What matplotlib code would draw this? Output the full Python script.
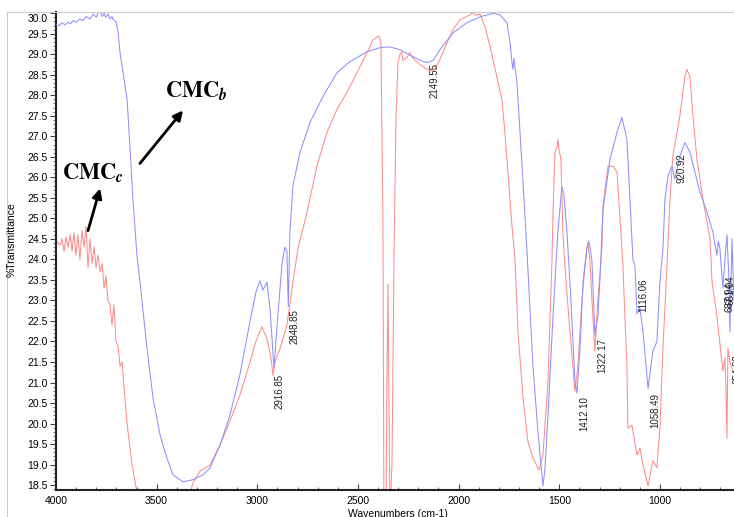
import matplotlib
matplotlib.use("Agg")
import matplotlib.pyplot as plt
from matplotlib.lines import Line2D
from matplotlib.ticker import MultipleLocator, FormatStrFormatter
import matplotlib.transforms as mtransforms

plt.rcParams['font.family'] = ['Liberation Sans', 'DejaVu Sans']
plt.rcParams['mathtext.fontset'] = 'stix'

# ---- CMC_b (blue) spectrum ----
wn_b = [4000, 3985, 3970, 3955, 3940, 3930, 3915, 3900, 3881, 3866, 3850, 3831, 3815, 3800, 3790, 3781,
        3770, 3760, 3752, 3742, 3732, 3722, 3717, 3702, 3692, 3682, 3647, 3632, 3618,
        3598, 3583, 3548, 3518, 3483, 3449, 3419, 3369, 3320, 3270, 3235, 3185, 3136, 3086, 3036,
        3007, 2987, 2972, 2952, 2937, 2917, 2897, 2877, 2863, 2853, 2846, 2838, 2823, 2788, 2738,
        2674, 2604, 2540, 2455, 2391, 2341, 2291, 2227, 2177, 2152, 2127, 2093, 2028, 1959, 1894,
        1829, 1795, 1760, 1745, 1735, 1730, 1725, 1710, 1695, 1680, 1661, 1631, 1606, 1586, 1581,
        1571, 1556, 1531, 1507, 1487, 1477, 1462, 1447, 1422, 1412, 1397, 1382, 1363, 1353, 1338,
        1323, 1308, 1298, 1283, 1248, 1213, 1189, 1164, 1149, 1134, 1124, 1114, 1099, 1084, 1059,
        1035, 1015, 1000, 985, 975, 960, 940, 926, 901, 876, 851, 801, 766, 737, 717, 710, 702,
        687, 677, 667, 657, 652, 642, 632]
tr_b = [29.72, 29.70, 29.76, 29.72, 29.78, 29.74, 29.82, 29.78, 29.86, 29.82, 29.92, 29.86, 29.98, 29.90, 30.02, 30.05,
        29.92, 30.00, 29.90, 29.98, 29.86, 29.92, 29.85, 29.80, 29.55, 29.04, 27.90, 26.70, 25.47,
        24.10, 23.46, 21.83, 20.62, 19.72, 19.16, 18.75, 18.58, 18.63, 18.75, 18.92, 19.48, 20.20, 21.20, 22.50,
        23.20, 23.48, 23.25, 23.45, 22.80, 21.35, 22.70, 23.90, 24.30, 24.20, 22.85, 24.67, 25.79, 26.61, 27.34,
        27.97, 28.55, 28.82, 29.06, 29.16, 29.18, 29.11, 28.94, 28.82, 28.80, 28.85, 29.11, 29.52, 29.77, 29.91,
        30.00, 29.96, 29.77, 29.30, 28.80, 28.63, 28.90, 28.31, 27.10, 25.88, 24.26, 21.42, 19.80, 18.75, 18.48,
        18.90, 20.20, 22.63, 24.67, 25.76, 25.60, 24.67, 23.45, 21.03, 20.74, 21.83, 23.45, 24.26, 24.45, 24.00,
        22.15, 22.63, 23.50, 25.20, 26.44, 27.10, 27.46, 26.93, 25.47, 24.00, 23.84, 22.68, 22.80, 22.24, 20.86,
        21.76, 22.00, 23.45, 24.26, 25.47, 26.03, 26.27, 25.96, 26.51, 26.85, 26.61, 25.64, 25.15, 24.67, 24.10, 24.45, 24.26,
        23.30, 24.00, 24.60, 23.50, 22.24, 24.50, 23.00]

# ---- CMC_c (red) spectrum ----
wn_c = [4000, 3990, 3980, 3970, 3960, 3950, 3940, 3930, 3920, 3911, 3901, 3891, 3881, 3871, 3861,
        3851, 3841, 3831, 3821, 3811, 3801, 3791, 3781, 3771, 3761, 3752, 3742, 3732, 3722, 3712,
        3702, 3692, 3682, 3672, 3657, 3647, 3632, 3622, 3608, 3593, 3533, 3434, 3359, 3320, 3285,
        3235, 3185, 3136, 3086, 3036, 3007, 2977, 2952, 2932, 2922, 2912, 2887, 2853, 2823, 2798,
        2753, 2704, 2654, 2604, 2555, 2505, 2455, 2425, 2396, 2386, 2376, 2371, 2361, 2356, 2351,
        2346, 2341, 2331, 2321, 2311, 2301, 2291, 2282, 2277, 2257, 2242, 2227, 2192, 2157, 2127,
        2093, 2058, 2028, 1993, 1944, 1929, 1914, 1894, 1869, 1844, 1829, 1810, 1785, 1770, 1755,
        1735, 1720, 1705, 1680, 1656, 1631, 1601, 1581, 1556, 1536, 1531, 1521, 1511, 1507, 1502,
        1492, 1482, 1472, 1447, 1422, 1407, 1387, 1372, 1363, 1358, 1348, 1338, 1323, 1308, 1288,
        1283, 1258, 1233, 1213, 1199, 1184, 1174, 1164, 1159, 1139, 1114, 1099, 1084, 1059, 1035,
        1015, 1000, 985, 965, 950, 936, 901, 876, 866, 851, 836, 816, 786, 751, 741, 717, 687,
        677, 672, 667, 662, 652, 637]
tr_c = [24.43, 24.40, 24.35, 24.50, 24.20, 24.55, 24.30, 24.60, 24.20, 24.65, 24.10, 24.60, 24.00, 24.70, 24.30,
        24.80, 23.80, 24.50, 23.90, 24.30, 23.80, 24.10, 23.70, 23.90, 23.30, 23.60, 23.00, 22.90, 22.40, 22.90,
        22.00, 21.90, 21.40, 21.50, 20.60, 20.00, 19.40, 19.00, 18.60, 18.20, 17.00, 16.80, 17.80, 18.55, 18.84,
        18.99, 19.48, 20.06, 20.70, 21.50, 22.00, 22.36, 22.07, 21.60, 21.17, 21.50, 21.83, 22.39, 23.45, 24.26,
        25.15, 26.27, 27.10, 27.66, 28.07, 28.55, 29.04, 29.35, 29.45, 29.30, 25.00, 18.00, 17.50, 21.00, 23.40,
        20.50, 17.80, 19.00, 24.00, 27.50, 28.80, 29.00, 29.06, 28.85, 28.92, 29.04, 28.90, 28.75, 28.63, 28.58,
        28.87, 29.28, 29.60, 29.84, 29.96, 30.01, 29.95, 29.98, 29.67, 29.20, 28.87, 28.46, 27.90, 27.10, 26.13,
        24.82, 24.00, 22.24, 20.62, 19.57, 19.16, 18.87, 19.23, 21.03, 24.00, 25.20, 26.61, 26.75, 26.93, 26.70,
        26.44, 24.67, 23.84, 22.24, 20.79, 21.42, 23.04, 23.84, 24.26, 24.40, 24.00, 23.04, 21.76, 23.04, 24.26,
        25.30, 26.27, 26.27, 26.13, 25.06, 23.90, 22.60, 21.42, 19.89, 19.96, 19.23, 19.40, 18.99, 18.48, 19.09,
        18.92, 19.89, 21.83, 23.84, 25.47, 26.51, 27.49, 28.46, 28.63, 28.46, 27.49, 26.44, 25.47, 24.50, 23.45, 22.63, 21.27,
        21.60, 20.90, 19.65, 21.83, 21.50, 21.27]

# ---- peak labels ----
peak_text = ["2149.55", "2916.85", "2848.85", "1412.10", "1322.17", "1116.06", "1058.49", "920.92",
             "687.94", "681.04", "654.63"]
peak_x = [2117, 2887, 2813, 1377, 1288, 1084, 1025, 891, 655, 648, 615]
peak_y = [28.78, 21.21, 22.80, 20.67, 22.09, 23.53, 20.75, 26.58, 23.45, 23.60, 21.70]

fig = plt.figure(figsize=(7.34, 5.17), dpi=100)
ax = fig.add_axes([56/734, 1 - 490/517, 1 - 56/734, (490 - 12)/517])

ax.plot(wn_c, tr_c, color='#ff8c8c', lw=0.75, zorder=2)
ax.plot(wn_b, tr_b, color='#8f8fff', lw=0.75, zorder=3)

ax.set_xlim(4000, 632)
ax.set_ylim(18.38, 30.03)

ax.xaxis.set_major_locator(MultipleLocator(500))
ax.xaxis.set_minor_locator(MultipleLocator(100))
ax.yaxis.set_major_locator(MultipleLocator(0.5))
ax.yaxis.set_minor_locator(MultipleLocator(0.1))
ax.yaxis.set_major_formatter(FormatStrFormatter('%.1f'))
ax.xaxis.set_major_formatter(FormatStrFormatter('%d'))

ax.tick_params(axis='x', which='major', direction='in', length=4, width=0.8, labelsize=7.5, pad=4, color='#444444')
ax.tick_params(axis='x', which='minor', direction='in', length=2.5, width=0.6, color='#444444')
ax.tick_params(axis='y', which='major', direction='out', length=4, width=0.8, labelsize=7.5, pad=2, color='#444444')
ax.tick_params(axis='y', which='minor', direction='out', length=2, width=0.6, color='#666666')

for s in ['left', 'bottom']:
    ax.spines[s].set_linewidth(1.5)
    ax.spines[s].set_color('#222222')
ax.spines['right'].set_visible(False)
ax.spines['top'].set_color('#cccccc')
ax.spines['top'].set_linewidth(0.8)

# shift the topmost y tick label down so it stays inside the frame
fig.canvas.draw()
for lbl in ax.get_yticklabels():
    if lbl.get_text() == '30.0':
        lbl.set_transform(lbl.get_transform() + mtransforms.ScaledTranslation(0, -5/100, fig.dpi_scale_trans))

# outer light-gray frame
fig.add_artist(Line2D([7/734, 1], [1 - 12/517, 1 - 12/517], color='#cccccc', lw=0.8))
fig.add_artist(Line2D([7/734, 7/734], [0, 1 - 12/517], color='#cccccc', lw=0.8))

fig.text(12/734, 1 - 240/517, '%Transmittance', rotation=90, ha='center', va='center', fontsize=7.5)
fig.text(398/734, 1 - 514/517, 'Wavenumbers (cm-1)', ha='center', va='center', fontsize=7.5)

for t, x, y in zip(peak_text, peak_x, peak_y):
    ax.text(x, y, t, rotation=90, ha='center', va='top', fontsize=7, color='#222222')

ax.text(3459, 28.12, r'$\mathbf{CMC}_{\mathbfit{b}}$', fontsize=16, ha='left', va='center')
ax.text(3970, 26.12, r'$\mathbf{CMC}_{\mathbfit{c}}$', fontsize=16, ha='left', va='center')

ax.annotate('', xy=(3369, 27.63), xytext=(3583, 26.34),
            arrowprops=dict(arrowstyle='-|>', color='black', lw=2, mutation_scale=14, shrinkA=0, shrinkB=0))
ax.annotate('', xy=(3781, 25.73), xytext=(3841, 24.70),
            arrowprops=dict(arrowstyle='-|>', color='black', lw=2, mutation_scale=14, shrinkA=0, shrinkB=0))

fig.savefig('out.png', dpi=100)
